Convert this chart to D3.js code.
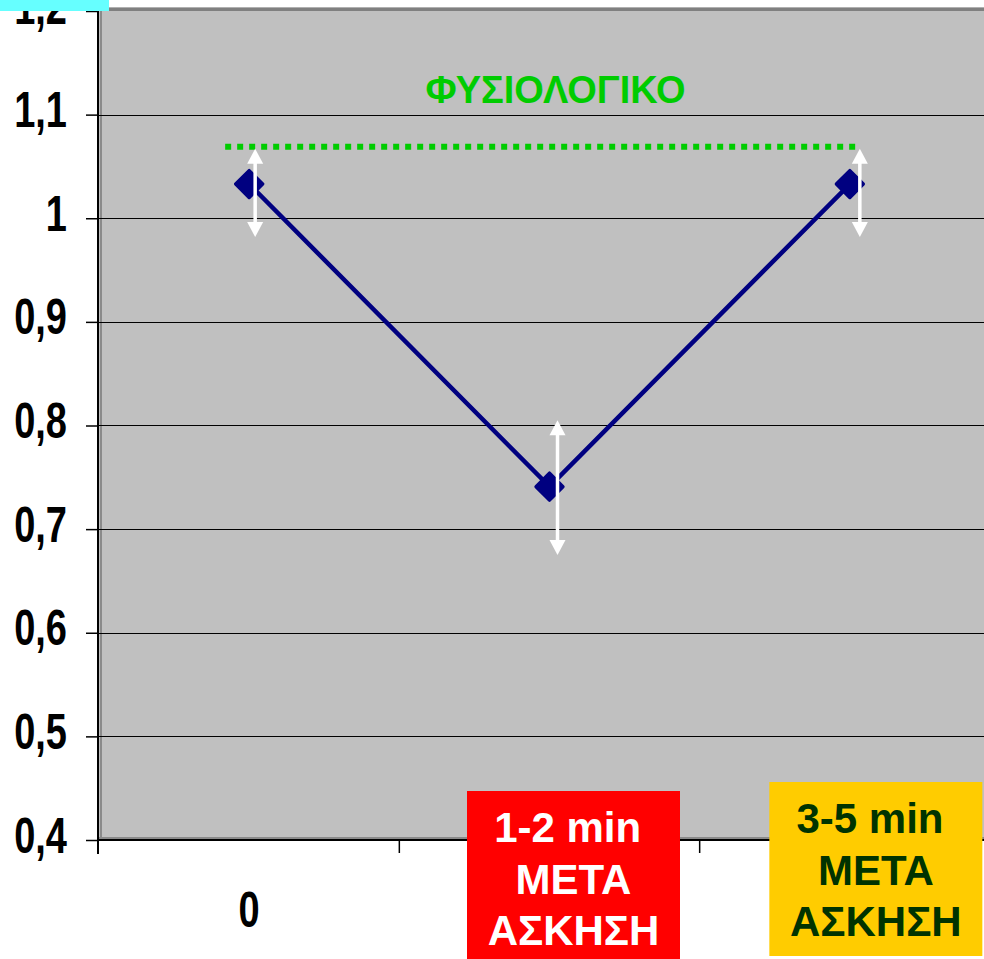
<!DOCTYPE html>
<html>
<head>
<meta charset="utf-8">
<script src="https://cdn.jsdelivr.net/npm/d3@7"></script>
<style>
  html, body { margin: 0; padding: 0; background: #fff; }
  svg { display: block; }
</style>
</head>
<body>
<svg id="chart" width="984" height="959"></svg>
<script>
// ---- data ----
const categories = ["0", "1-2 min ΜΕΤΑ ΑΣΚΗΣΗ", "3-5 min ΜΕΤΑ ΑΣΚΗΣΗ"];
const values = [1.033, 0.741, 1.033];
const errHigh = [1.067, 0.805, 1.067];
const errLow = [0.982, 0.675, 0.982];
const yTicks = [0.4, 0.5, 0.6, 0.7, 0.8, 0.9, 1.0, 1.1, 1.2];
const yTickLabels = ["0,4", "0,5", "0,6", "0,7", "0,8", "0,9", "1", "1,1", "1,2"];
const normalValue = 1.069;
const normalLabel = "ΦΥΣΙΟΛΟΓΙΚΟ";
const boxLabels = [
  null,
  ["1-2 min ", "ΜΕΤΑ", "ΑΣΚΗΣΗ"],
  ["3-5 min ", "ΜΕΤΑ", "ΑΣΚΗΣΗ"]
];
const boxFill = [null, "#FF0000", "#FFCC00"];
const boxText = [null, "#FFFFFF", "#003300"];

// ---- layout ----
const svg = d3.select("#chart");
const pLeft = 99, pRight = 1000, pTop = 11, pBottom = 840;
const narrow = 0.76; // horizontal compression of axis label font

const x = d3.scaleBand().domain(categories).range([pLeft, pRight]).padding(0);
const y = d3.scaleLinear().domain([0.4, 1.2]).range([pBottom, pTop]);
const cx = c => x(c) + x.bandwidth() / 2;

// plot background
svg.append("rect").attr("x", pLeft).attr("y", pTop).attr("width", 984 - pLeft).attr("height", pBottom - pTop)
  .attr("fill", "#C0C0C0");
// top shade band
svg.append("rect").attr("x", pLeft).attr("y", 7).attr("width", 984 - pLeft).attr("height", 1).attr("fill", "#B0B0B0");
svg.append("rect").attr("x", pLeft).attr("y", 8).attr("width", 984 - pLeft).attr("height", 3).attr("fill", "#808080");
// bottom / left shade
svg.append("rect").attr("x", pLeft).attr("y", pBottom - 3).attr("width", 984 - pLeft).attr("height", 3).attr("fill", "#8A8A8A");
svg.append("rect").attr("x", pLeft + 1).attr("y", pTop).attr("width", 2).attr("height", pBottom - pTop).attr("fill", "#8A8A8A");

// gridlines
svg.append("g").selectAll("line").data(yTicks.filter(t => t > 0.4 && t < 1.2)).join("line")
  .attr("x1", pLeft).attr("x2", 984)
  .attr("y1", d => Math.round(y(d)) + 0.5).attr("y2", d => Math.round(y(d)) + 0.5)
  .attr("stroke", "#000").attr("stroke-width", 1.2);

// y axis
const yAxis = d3.axisLeft(y).tickValues(yTicks)
  .tickFormat((d, i) => yTickLabels[i]).tickSize(12).tickPadding(19);
const gy = svg.append("g").attr("transform", `translate(${pLeft - 1},0)`).call(yAxis);
gy.select(".domain").attr("stroke", "#000").attr("stroke-width", 2).attr("d", `M0,${pTop - 3}V${pBottom + 14}`);
gy.selectAll(".tick line").attr("stroke", "#000").attr("stroke-width", 1.5);
gy.selectAll(".tick text")
  .attr("font-family", "'Liberation Sans', Arial, sans-serif")
  .attr("font-weight", "bold").attr("font-size", 50).attr("fill", "#000")
  .attr("dy", "0.24em")
  .attr("x", -31 / narrow)
  .attr("transform", `scale(${narrow},1)`);

// x axis
const xAxis = d3.axisBottom(x).tickSize(0).tickFormat((d, i) => i === 0 ? d : "");
const gx = svg.append("g").attr("transform", `translate(0,${pBottom})`).call(xAxis);
gx.select(".domain").attr("stroke", "#000").attr("stroke-width", 2).attr("d", `M${pLeft - 1},0H984`);
gx.selectAll(".tick text")
  .attr("font-family", "'Liberation Sans', Arial, sans-serif")
  .attr("font-weight", "bold").attr("font-size", 50).attr("fill", "#000")
  .attr("dy", 0).attr("y", 87)
  .attr("transform", `scale(${narrow},1)`);
// category separator ticks
svg.append("g").selectAll("line").data(categories.slice(1)).join("line")
  .attr("x1", d => x(d)).attr("x2", d => x(d))
  .attr("y1", pBottom).attr("y2", pBottom + 13)
  .attr("stroke", "#000").attr("stroke-width", 1.5);

// normal (dotted) line
svg.append("line")
  .attr("x1", cx(categories[0]) - 24).attr("x2", cx(categories[2]) + 9)
  .attr("y1", y(normalValue)).attr("y2", y(normalValue))
  .attr("stroke", "#00CC00").attr("stroke-width", 6).attr("stroke-dasharray", "6 6");
svg.append("text")
  .attr("x", (cx(categories[0]) + cx(categories[2])) / 2 + 6).attr("y", 103)
  .attr("text-anchor", "middle")
  .attr("font-family", "'Liberation Sans', Arial, sans-serif").attr("font-weight", "bold")
  .attr("font-size", 38).attr("fill", "#00CC00").text(normalLabel);

// series line
const pts = categories.map((c, i) => [cx(c), y(values[i])]);
svg.append("path").attr("d", d3.line()(pts))
  .attr("fill", "none").attr("stroke", "#000080").attr("stroke-width", 4.5);

// markers
svg.append("g").selectAll("path").data(pts).join("path")
  .attr("d", d3.symbol(d3.symbolSquare, 360)())
  .attr("transform", d => `translate(${d[0]},${d[1]}) rotate(45)`)
  .attr("fill", "#000080").attr("stroke", "#000080").attr("stroke-width", 3.5).attr("stroke-linejoin", "round");

// error arrows (white)
const offsets = [6, 8, 10];
const eg = svg.append("g");
categories.forEach((c, i) => {
  const ex = cx(c) + offsets[i];
  const yt = y(errHigh[i]), yb = y(errLow[i]);
  eg.append("line").attr("x1", ex).attr("x2", ex).attr("y1", yt + 6).attr("y2", yb - 6)
    .attr("stroke", "#FFFFFF").attr("stroke-width", 3.5);
  eg.append("path").attr("d", `M${ex},${yt}L${ex - 8},${yt + 15}L${ex + 8},${yt + 15}Z`).attr("fill", "#FFFFFF");
  eg.append("path").attr("d", `M${ex},${yb}L${ex - 8},${yb - 15}L${ex + 8},${yb - 15}Z`).attr("fill", "#FFFFFF");
});

// annotation boxes for later categories
const boxTops = [null, 791, 782];
const boxBottoms = [null, 959, 956];
categories.forEach((c, i) => {
  if (!boxLabels[i]) return;
  const bcx = cx(c) + 24 + (i === 2 ? 2 : 0);
  const w = 213;
  svg.append("rect").attr("x", bcx - w / 2).attr("y", boxTops[i]).attr("width", w)
    .attr("height", boxBottoms[i] - boxTops[i]).attr("fill", boxFill[i]);
  boxLabels[i].forEach((t, k) => {
    svg.append("text")
      .attr("x", bcx).attr("y", boxTops[i] + 51 + k * 51.5)
      .attr("text-anchor", "middle")
      .style("white-space", "pre")
      .attr("font-family", "'Liberation Sans', Arial, sans-serif").attr("font-weight", "bold")
      .attr("font-size", 42).attr("fill", boxText[i]).text(t);
  });
});

// cyan corner block
svg.append("rect").attr("x", 0).attr("y", 0).attr("width", 109).attr("height", 11).attr("fill", "#66FFFF");
</script>
</body>
</html>
